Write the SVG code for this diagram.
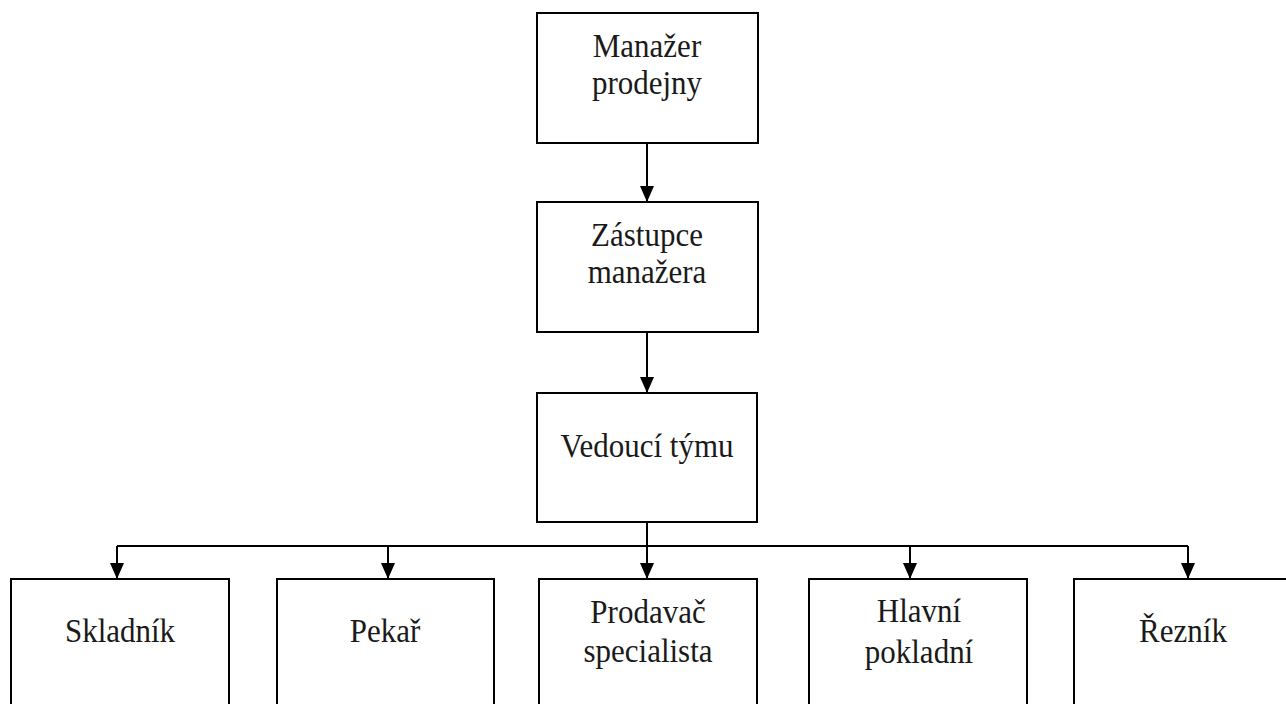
<svg xmlns="http://www.w3.org/2000/svg" width="1286" height="704" viewBox="0 0 1286 704">
<style>
.box{fill:#fff;stroke:#000;stroke-width:2}
.lbl{fill:#1a1a1a;text-anchor:middle}
.con{fill:none;stroke:#000;stroke-width:2}
</style>
<defs>
<marker id="arr" markerUnits="userSpaceOnUse" markerWidth="16" markerHeight="14" refX="16" refY="7" orient="auto" viewBox="0 0 16 14">
<path d="M0,0 L16,7 L0,14 Z" fill="#000"/>
</marker>
</defs>
<rect width="1286" height="704" fill="#fff"/>
<g id="connectors">
<line class="con" x1="647" y1="143" x2="647" y2="202" marker-end="url(#arr)"/>
<line class="con" x1="647" y1="332" x2="647" y2="393" marker-end="url(#arr)"/>
<line class="con" x1="647" y1="522" x2="647" y2="579" marker-end="url(#arr)"/>
<line class="con" x1="117" y1="546" x2="1188" y2="546"/>
<line class="con" x1="117" y1="546" x2="117" y2="579" marker-end="url(#arr)"/>
<line class="con" x1="388" y1="546" x2="388" y2="579" marker-end="url(#arr)"/>
<line class="con" x1="910" y1="546" x2="910" y2="579" marker-end="url(#arr)"/>
<line class="con" x1="1188" y1="546" x2="1188" y2="579" marker-end="url(#arr)"/>
</g>
<g font-family="Liberation Serif" font-size="31">
<g id="manazer">
<rect class="box" x="537" y="13" width="221" height="130"/>
<text class="lbl" transform="translate(647,57) scale(1,1.1)">Manažer</text>
<text class="lbl" transform="translate(647,94) scale(1,1.1)">prodejny</text>
</g>
<g id="zastupce">
<rect class="box" x="537" y="202" width="221" height="130"/>
<text class="lbl" transform="translate(647,246) scale(1,1.1)">Zástupce</text>
<text class="lbl" transform="translate(647,283) scale(1,1.1)">manažera</text>
</g>
<g id="vedouci">
<rect class="box" x="537" y="393" width="220" height="129"/>
<text class="lbl" transform="translate(647,457) scale(1,1.1)">Vedoucí týmu</text>
</g>
<g id="skladnik">
<rect class="box" x="11" y="579" width="218" height="140"/>
<text class="lbl" transform="translate(120,642) scale(1,1.1)">Skladník</text>
</g>
<g id="pekar">
<rect class="box" x="277" y="579" width="217" height="140"/>
<text class="lbl" transform="translate(385,642) scale(1,1.1)">Pekař</text>
</g>
<g id="prodavac">
<rect class="box" x="539" y="579" width="218" height="140"/>
<text class="lbl" transform="translate(648,623) scale(1,1.1)">Prodavač</text>
<text class="lbl" transform="translate(648,662) scale(1,1.1)">specialista</text>
</g>
<g id="hlavni">
<rect class="box" x="809" y="579" width="218" height="140"/>
<text class="lbl" transform="translate(919,622) scale(1,1.1)">Hlavní</text>
<text class="lbl" transform="translate(919,663) scale(1,1.1)">pokladní</text>
</g>
<g id="reznik">
<rect class="box" x="1074" y="579" width="220" height="140"/>
<text class="lbl" transform="translate(1183,642) scale(1,1.1)">Řezník</text>
</g>
</g>
</svg>
